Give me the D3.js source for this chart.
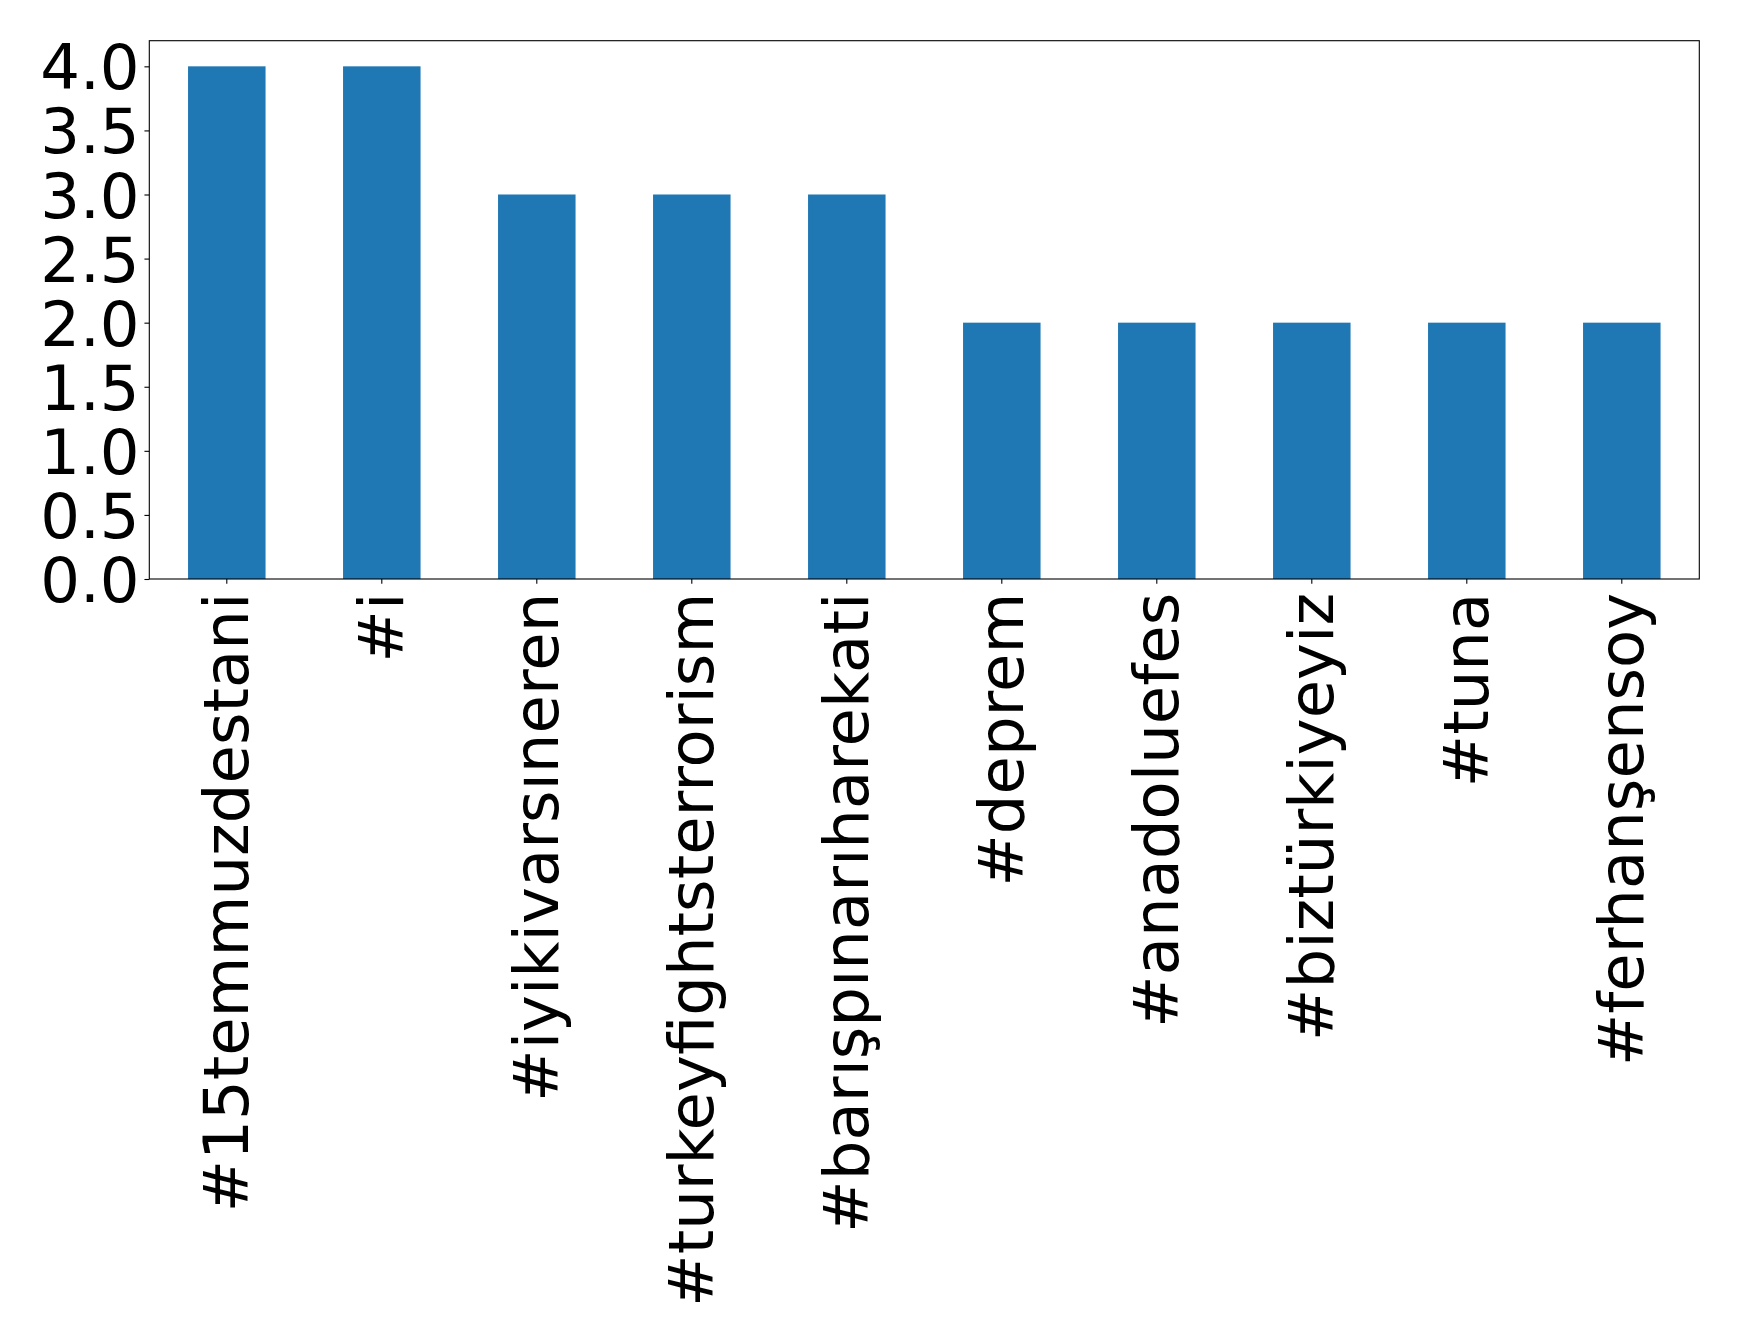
<!DOCTYPE html>
<html><head><meta charset="utf-8">
<script src="https://cdn.jsdelivr.net/npm/d3@7"></script>
<style>html,body{margin:0;padding:0;background:#fff;} text{font-family:'DejaVu Sans',sans-serif;}</style>
</head><body>
<script>
const categories = ["#15temmuzdestani", "#i", "#iyikivarsıneren", "#turkeyfightsterrorism", "#barışpınarıharekati", "#deprem", "#anadoluefes", "#biztürkiyeyiz", "#tuna", "#ferhanşensoy"];
const values = [4, 4, 3, 3, 3, 2, 2, 2, 2, 2];
const yTicks = [0, 0.5, 1, 1.5, 2, 2.5, 3, 3.5, 4];

const W = 1739, H = 1342;
const m = {left: 149.3, top: 40.7, right: 1699.3, bottom: 579};
const fs = 62.5;
const FF = "'DejaVu Sans', sans-serif";
const svg = d3.select("body").append("svg").attr("width", W).attr("height", H);

const x = d3.scaleBand().domain(categories).range([m.left, m.right]).paddingInner(0.5).paddingOuter(0.25);
const y = d3.scaleLinear().domain([0, 4.2]).range([m.bottom, m.top]);

svg.append("g").selectAll("rect").data(values).join("rect")
  .attr("x", (d, i) => x(categories[i]))
  .attr("width", x.bandwidth())
  .attr("y", d => y(d))
  .attr("height", d => y(0) - y(d))
  .attr("fill", "#1f77b4");

const tickLen = 4.86, pad = 4.86;

const yAxis = svg.append("g").attr("transform", `translate(${m.left},0)`)
  .call(d3.axisLeft(y).tickValues(yTicks).tickFormat(d3.format(".1f")).tickSize(tickLen).tickPadding(pad))
  .attr("font-family", FF).attr("font-size", fs);
yAxis.select(".domain").remove();
yAxis.selectAll("line").attr("stroke", "#000").attr("stroke-width", 1.1);
yAxis.selectAll("text").attr("fill", "#000").attr("dy", "0.36em");

const xAxis = svg.append("g").attr("transform", `translate(0,${m.bottom})`)
  .call(d3.axisBottom(x).tickSize(tickLen).tickPadding(pad))
  .attr("font-family", FF).attr("font-size", fs);
xAxis.select(".domain").remove();
xAxis.selectAll("line").attr("stroke", "#000").attr("stroke-width", 1.1);
xAxis.selectAll("text")
  .attr("fill", "#000")
  .attr("text-anchor", "end")
  .attr("dy", null)
  .attr("dominant-baseline", "central")
  .attr("transform", `translate(0,${tickLen + pad + 4}) rotate(-90)`)
  .attr("x", 0).attr("y", 0);

svg.append("rect")
  .attr("x", m.left).attr("y", m.top)
  .attr("width", m.right - m.left).attr("height", m.bottom - m.top)
  .attr("fill", "none").attr("stroke", "#000").attr("stroke-width", 1.1);
</script>
</body></html>
